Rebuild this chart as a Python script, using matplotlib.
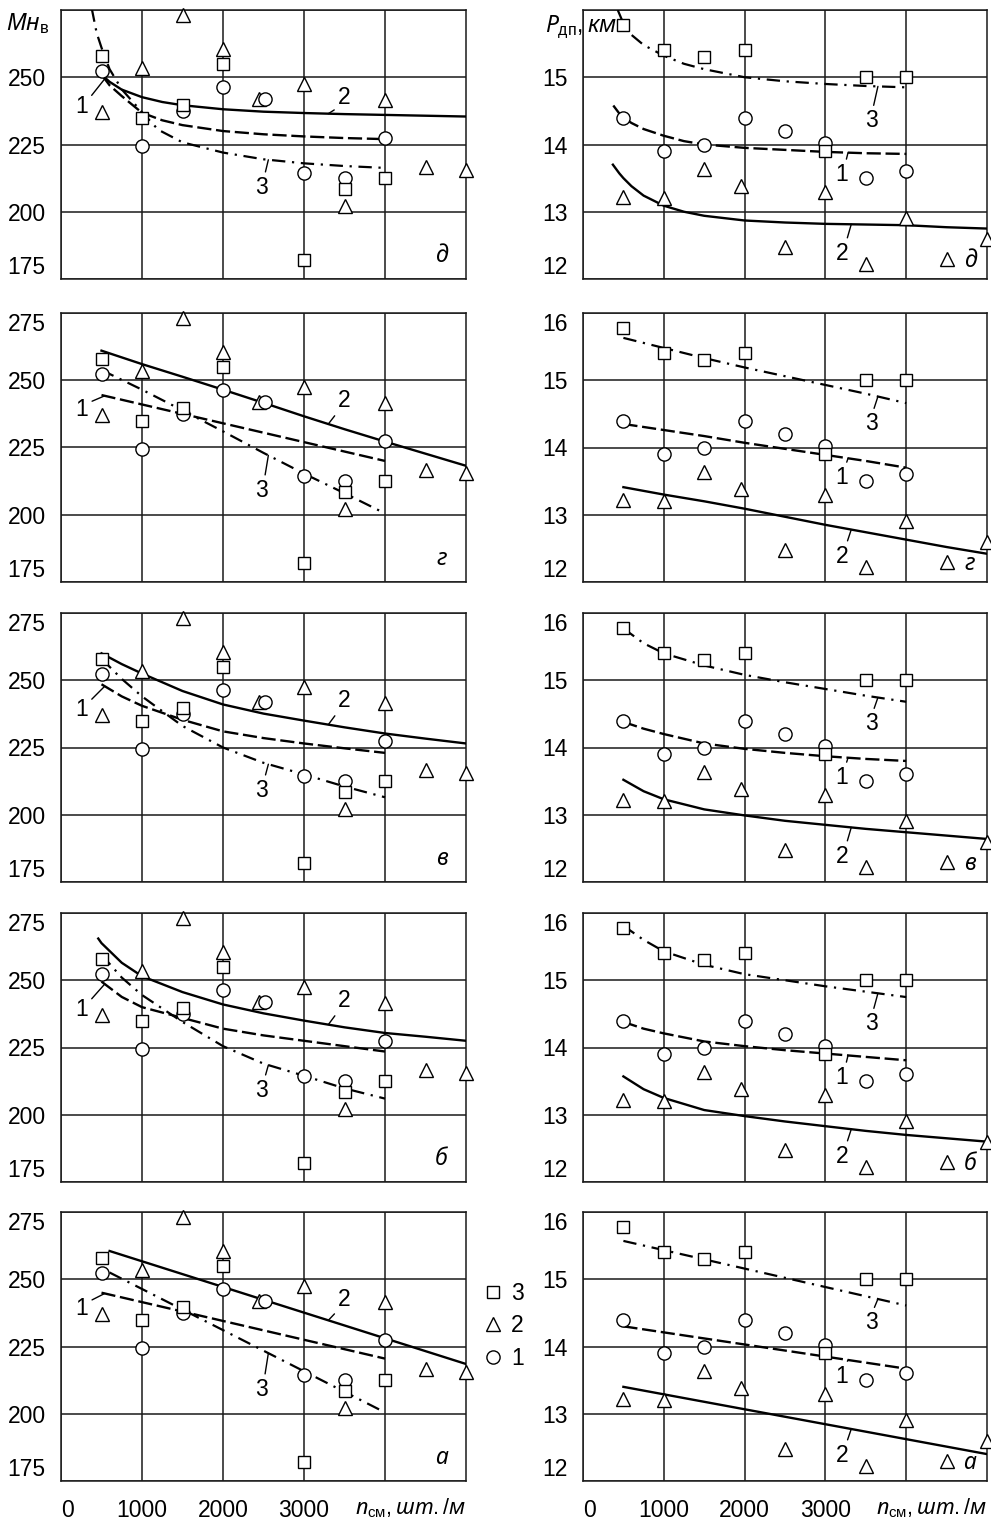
import numpy as np
import matplotlib
matplotlib.use("Agg")
from matplotlib import pyplot as plt
from matplotlib.lines import Line2D

plt.rcParams['font.family'] = ['Liberation Sans', 'DejaVu Sans']
plt.rcParams['mathtext.fontset'] = 'custom'
plt.rcParams['mathtext.rm'] = 'Liberation Sans'
plt.rcParams['mathtext.it'] = 'Noto Sans:italic'
plt.rcParams['mathtext.bf'] = 'Liberation Sans:bold'

# measured points, identical in every panel
SQ_X = [500, 1000, 1500, 2000, 3000, 3500, 4000]
SQ_M = [258, 235, 239.5, 255, 182, 208.5, 212.5]
TRI_X = [500, 1000, 1500, 2000, 2450, 3000, 3500, 4000, 4500, 5000]
TRI_M = [237, 253.5, 273, 260.5, 242, 247.5, 202, 241.5, 216.5, 215.5]
CIRC_X = [500, 1000, 1500, 2000, 2520, 3000, 3500, 4000]
CIRC_M = [252.5, 224.5, 237.5, 246.5, 242, 214.5, 212.5, 227.5]

SQ_P = [15.78, 15.4, 15.3, 15.4, 13.9, 15.0, 15.0]
TRI_PX = [500, 1000, 1500, 1960, 2500, 3000, 3500, 4000, 4500, 5000]
TRI_P = [13.22, 13.21, 13.63, 13.39, 12.48, 13.29, 12.22, 12.91, 12.3, 12.6]
CIRC_PX = [500, 1000, 1500, 2000, 2500, 3000, 3500, 4000]
CIRC_P = [14.4, 13.9, 14.0, 14.4, 14.2, 14.02, 13.5, 13.6]

X_TO4 = [500, 750, 1000, 1500, 2000, 2500, 3000, 3500, 4000]
X_FULL = [500, 750, 1000, 1500, 2000, 2500, 3000, 3500, 4000, 4500, 5000]
X_STEP4 = [500, 1000, 1500, 2000, 2500, 3000, 3500, 4000]
X_STEP5 = [500, 1000, 1500, 2000, 2500, 3000, 3500, 4000, 4500, 5000]

# panel д
D_M1_X = [500, 600, 750, 1000, 1250, 1500, 2000, 2500, 3000, 3500, 4000]
D_M1 = [251, 247, 243, 236.8, 234, 232.2, 230, 228.8, 228, 227.4, 227]
D_M2_X = [500, 600, 750, 1000, 1250, 1500, 2000, 2500, 3000, 3500, 4000, 4500, 5000]
D_M2 = [251, 248.3, 245.4, 242.6, 240.8, 239.6, 238.1, 237.2, 236.7, 236.3, 236.0, 235.7, 235.4]
D_M3_X = [380, 440, 500, 600, 750, 1000, 1200, 1500, 2000, 2500, 3000, 3500, 4000]
D_M3 = [275.5, 266.5, 261, 253, 245.5, 237, 230.5, 225.8, 222, 219.5, 218, 217, 216.3]
D_P1_X = [375, 450, 500, 600, 750, 1000, 1250, 1500, 2000, 2500, 3000, 3500, 4000]
D_P1 = [14.58, 14.46, 14.4, 14.32, 14.23, 14.13, 14.05, 14.0, 13.95, 13.92, 13.89, 13.87, 13.86]
D_P2_X = [370, 450, 500, 600, 750, 1000, 1250, 1500, 2000, 2500, 3000, 3500, 4000, 4500, 5000]
D_P2 = [13.7, 13.57, 13.5, 13.38, 13.24, 13.09, 13.0, 12.94, 12.87, 12.84, 12.82, 12.81, 12.8, 12.77, 12.75]
D_P3_X = [430, 500, 600, 750, 1000, 1250, 1500, 2000, 2500, 3000, 3500, 4000]
D_P3 = [16.0, 15.8, 15.63, 15.48, 15.32, 15.2, 15.12, 15.0, 14.94, 14.9, 14.87, 14.85]

# panel г
G_M1 = [244.5, 241, 237.5, 234, 230.5, 227, 223.5, 220]
G_M2 = [261, 256, 251.3, 246.5, 241.6, 236.6, 231.8, 227.2, 222.7, 218.2]
G_M3 = [253.8, 246.5, 238.8, 231, 223, 215.3, 208, 200.5]
G_P1 = [14.35, 14.26, 14.17, 14.07, 13.98, 13.89, 13.8, 13.7]
G_P2 = [13.41, 13.3, 13.2, 13.09, 12.97, 12.85, 12.74, 12.63, 12.52, 12.42]
G_P3 = [15.63, 15.48, 15.33, 15.19, 15.06, 14.93, 14.8, 14.66]

# panel в
V_M1 = [248.5, 244, 240.5, 235.3, 231, 228.5, 226.5, 224.7, 223]
V_M2 = [260, 256, 252.5, 246, 241, 237.6, 235, 232.5, 230.2, 228.3, 226.5]
V_M3 = [258, 250.5, 244, 233, 225, 219.3, 215, 210.5, 206.5]
V_P1 = [14.38, 14.28, 14.2, 14.06, 13.98, 13.92, 13.87, 13.83, 13.8]
V_P2 = [13.52, 13.35, 13.23, 13.08, 12.99, 12.91, 12.85, 12.79, 12.74, 12.69, 12.64]
V_P3 = [15.77, 15.55, 15.4, 15.22, 15.08, 14.97, 14.87, 14.77, 14.68]

# panel б
B_M1 = [249.5, 243.8, 240, 236, 232, 229.5, 227.5, 225.5, 223.5]
B_M2_X = [460, 500, 750, 1000, 1500, 2000, 2500, 3000, 3500, 4000, 4500, 5000]
B_M2 = [265.5, 263.8, 256.5, 251.5, 245.6, 241, 237.7, 235, 232.5, 230.4, 229, 227.5]
B_M3 = [259.5, 251, 244.5, 234.5, 225.5, 219, 214.5, 209.8, 206]
B_P1 = [14.38, 14.28, 14.21, 14.09, 14.02, 13.96, 13.91, 13.86, 13.81]
B_P2 = [13.57, 13.38, 13.25, 13.07, 12.98, 12.9, 12.83, 12.76, 12.7, 12.65, 12.6]
B_P3 = [15.81, 15.6, 15.43, 15.23, 15.09, 15.0, 14.91, 14.83, 14.75]

# panel а (straight lines)
A_M1_X = [500, 4000]
A_M1 = [245, 220.5]
A_M2_X = [600, 5000]
A_M2 = [260.5, 218.5]
A_M3_X = [600, 4000]
A_M3 = [252.5, 200.5]
A_P1_X = [500, 4000]
A_P1 = [14.3, 13.67]
A_P2_X = [500, 5000]
A_P2 = [13.4, 12.4]
A_P3_X = [500, 4000]
A_P3 = [15.57, 14.61]

LETTERS = ['д', 'г', 'в', 'б', 'а']
LEFT = [
    [(D_M1_X, D_M1), (D_M2_X, D_M2), (D_M3_X, D_M3)],
    [(X_STEP4, G_M1), (X_STEP5, G_M2), (X_STEP4, G_M3)],
    [(X_TO4, V_M1), (X_FULL, V_M2), (X_TO4, V_M3)],
    [(X_TO4, B_M1), (B_M2_X, B_M2), (X_TO4, B_M3)],
    [(A_M1_X, A_M1), (A_M2_X, A_M2), (A_M3_X, A_M3)],
]
RIGHT = [
    [(D_P1_X, D_P1), (D_P2_X, D_P2), (D_P3_X, D_P3)],
    [(X_STEP4, G_P1), (X_STEP5, G_P2), (X_STEP4, G_P3)],
    [(X_TO4, V_P1), (X_FULL, V_P2), (X_TO4, V_P3)],
    [(X_TO4, B_P1), (X_FULL, B_P2), (X_TO4, B_P3)],
    [(A_P1_X, A_P1), (A_P2_X, A_P2), (A_P3_X, A_P3)],
]

W, H = 991, 1521
fig = plt.figure(figsize=(W / 100, H / 100), dpi=100)
FS = 16.5
styles = [dict(ls=(0, (6, 2)), lw=1.7), dict(ls='-', lw=1.7), dict(ls=(0, (6, 3, 1, 3)), lw=1.6)]
mk = dict(ls='none', mfc='white', mec='black', mew=1.0)
lead = dict(arrowstyle='-', lw=1.0, color='black', shrinkA=1, shrinkB=0)


def panel(ax, curves, sq, tri_x, tri, circ_x, circ, yt, ylim, marks):
    ax.set_xlim(0, 5000)
    ax.set_ylim(*ylim)
    ax.set_xticks([0, 1000, 2000, 3000, 4000])
    ax.set_yticks(yt)
    ax.grid(True, color='#1a1a1a', lw=1.1)
    ax.set_axisbelow(True)
    for s in ax.spines.values():
        s.set_linewidth(1.1)
        s.set_color('#1a1a1a')
    ax.tick_params(length=0, labelsize=FS, pad=11)
    ax.tick_params(axis='x', pad=13)
    for (x, y), st in zip(curves, styles):
        ax.plot(x, y, color='black', zorder=3, **st)
    ax.plot(tri_x, tri, marker='^', ms=9.5, clip_on=False, zorder=4, **mk)
    ax.plot(circ_x, circ, marker='o', ms=9.5, clip_on=False, zorder=4, **mk)
    ax.plot(SQ_X, sq, marker='s', ms=9, clip_on=False, zorder=4, **mk)
    # curve labels with short leaders
    for k, (tx, ty, lx, rel) in enumerate(marks):
        cx, cy = curves[k]
        ax.annotate(str(k + 1), xy=(lx, np.interp(lx, cx, cy)), xytext=(tx, ty),
                    ha='center', va='center', fontsize=FS,
                    arrowprops=dict(relpos=rel, **lead))


LM = [(255, 239, 540, (1, 0.8)), (3500, 242.5, 3300, (0.1, 0.1)), (2480, 209, 2560, (0.7, 1))]
RM = [(3200, 13.55, 3280, (0.8, 1)), (3210, 12.38, 3320, (0.8, 1)), (3570, 14.35, 3650, (0.6, 1))]

bottoms = [279, 582, 882, 1182, 1481]
for r, letter in enumerate(LETTERS):
    b = 1 - bottoms[r] / H
    axl = fig.add_axes([61 / W, b, 405 / W, 269 / H])
    axr = fig.add_axes([583 / W, b, 404 / W, 269 / H])
    lm = list(LM)
    lm[0] = (255, 239, LEFT[r][0][0][0] + 40, (1, 0.8))
    panel(axl, LEFT[r], SQ_M, TRI_X, TRI_M, CIRC_X, CIRC_M,
          [175, 200, 225, 250, 275], (175, 275), lm)
    panel(axr, RIGHT[r], SQ_P, TRI_PX, TRI_P, CIRC_PX, CIRC_P,
          [12, 13, 14, 15, 16], (12, 16), RM)
    axl.text(4700, 183.5, letter, fontsize=FS, style='italic', family='Noto Sans',
             ha='center', va='center')
    axr.text(4790, 12.27, letter, fontsize=FS, style='italic', family='Noto Sans',
             ha='center', va='center')
    for ax in (axl, axr):
        labs = [str(v) for v in ax.get_yticks().astype(int)]
        if r == 0:
            labs[-1] = ''
        ax.set_yticklabels(labs)
        ylabs = ax.get_yticklabels()
        ylabs[0].set_va('bottom')
        ylabs[-1].set_va('top')
        if r == 4:
            ax.set_xticklabels(['0', '1000', '2000', '3000', ''])
            ax.get_xticklabels()[0].set_ha('left')
            ax.text(1.0, -0.1, r'$\mathit{n}_{\mathrm{см}}\mathit{,шт./м}$', transform=ax.transAxes,
                    ha='right', va='center', fontsize=FS - 1)
        else:
            ax.set_xticklabels([])
    if r == 0:
        axl.text(-0.135, 0.95, r'$\mathit{Мн}_{\mathrm{в}}$', transform=axl.transAxes,
                 ha='left', va='center', fontsize=FS + 0.5)
        axr.text(-0.094, 0.937, r'$\mathit{P}_{\mathrm{дп}}\mathit{,км}$', transform=axr.transAxes,
                 ha='left', va='center', fontsize=FS)

handles = [Line2D([], [], marker='s', ms=9, **mk),
           Line2D([], [], marker='^', ms=9.5, **mk),
           Line2D([], [], marker='o', ms=9.5, **mk)]
fig.legend(handles, ['3', '2', '1'], loc='center', bbox_to_anchor=(504 / W, 1 - 1326 / H),
           frameon=False, fontsize=FS, handlelength=0.8, handletextpad=0.4,
           labelspacing=0.4, borderpad=0)

fig.savefig('out.png', dpi=100)
